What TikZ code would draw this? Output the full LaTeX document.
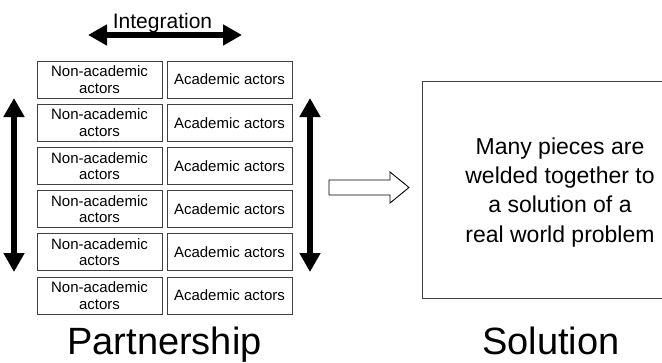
\documentclass[tikz,border=0pt]{standalone}
\usepackage{fontspec}
\setmainfont{Liberation Sans}
\usetikzlibrary{arrows.meta}
\tikzset{
  actorbox/.style={draw=black!75, line width=0.9pt, minimum width=125pt, minimum height=37pt, inner sep=0pt, align=center, font=\fontsize{15}{16.5}\selectfont},
  bigarrow/.style={line width=5.5pt, {Triangle[length=19pt,width=20pt]}-{Triangle[length=19pt,width=20pt]}},
  hollow/.style={draw=black, line width=0.9pt, fill=white},
  title/.style={font=\fontsize{38}{40}\selectfont, anchor=base},
}
\begin{document}
\begin{tikzpicture}[x=1pt,y=-1pt]
\useasboundingbox (0,0) rectangle (662,362);
% grid of actors
\foreach \i in {0,...,5}{
  \node[actorbox] (na\i) at (99.5,{79.5+43.2*\i}) {Non-academic\\actors};
  \node[actorbox] (ac\i) at (229.5,{79.5+43.2*\i}) {Academic actors};
}
% integration
\node[anchor=base, font=\fontsize{21}{24}\selectfont] (integ) at (162.5,28) {Integration};
\coordinate (il) at (88,35);
\coordinate (ir) at (242,35);
\draw[bigarrow] (il) -- (ir);
% vertical arrows
\coordinate (lt) at (14,98);
\coordinate (lb) at (14,272);
\coordinate (rt) at (310,98);
\coordinate (rb) at (310,272);
\draw[bigarrow] (lt) -- (lb);
\draw[bigarrow] (rt) -- (rb);
% hollow arrow
\draw[hollow] (329,180) -- (390,180) -- (390,172) -- (409,187.5) -- (390,203) -- (390,195) -- (329,195) -- cycle;
% solution box
\draw[draw=black!75, line width=0.9pt] (422,81) rectangle (680,298);
\node[align=center, font=\fontsize{23}{29.4}\selectfont, inner sep=0pt] (sol) at (560,192.2) {Many pieces are\\welded together to\\a solution of a\\real world problem};
% titles
\node[title] (part) at (164.5,354) {Partnership};
\node[title] (solt) at (551,354) {Solution};
\end{tikzpicture}
\end{document}
